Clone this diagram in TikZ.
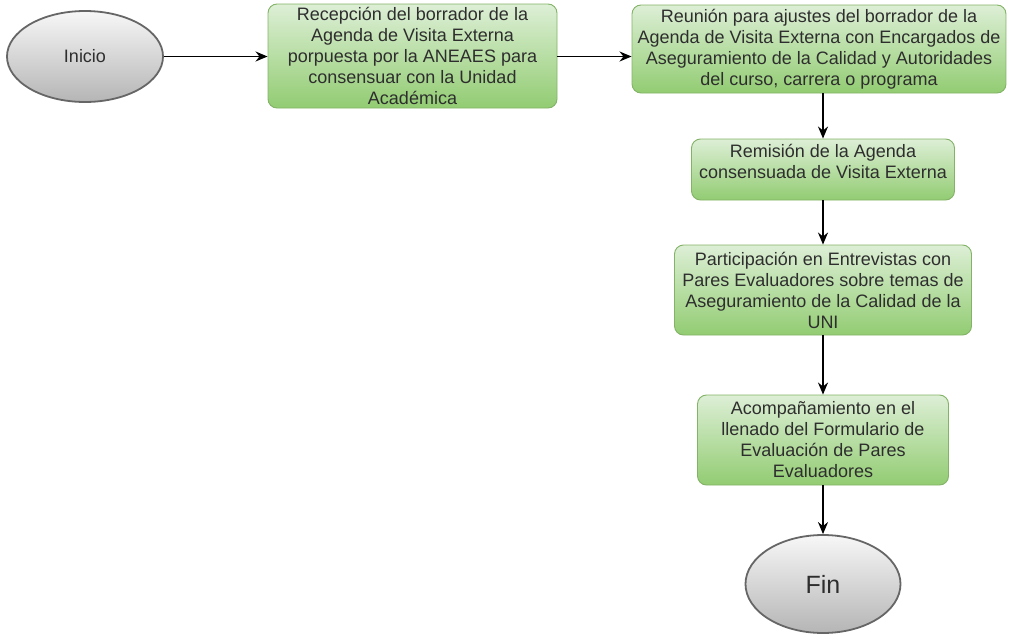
\documentclass[tikz,border=0pt]{standalone}
\usepackage{fontspec}
\setmainfont{Liberation Sans}
\usetikzlibrary{arrows.meta,shapes.geometric}
\definecolor{stepfillA}{HTML}{DDEFD6}
\definecolor{stepfillB}{HTML}{92CC72}
\definecolor{stepline}{HTML}{82B366}
\definecolor{termfillA}{HTML}{F7F7F7}
\definecolor{termfillB}{HTML}{B5B5B5}
\definecolor{termline}{HTML}{666666}
\definecolor{inktext}{HTML}{2E2E2E}
\begin{document}
\begin{tikzpicture}[x=1pt,y=-1pt,
  stepbox/.style={draw=stepline, line width=0.9pt, rounded corners=9pt,
    top color=stepfillA, bottom color=stepfillB, inner sep=0pt,
    align=center, text=inktext,
    font=\fontsize{18}{21}\selectfont},
  terminal/.style={ellipse, draw=termline, line width=1.8pt,
    top color=termfillA, bottom color=termfillB, inner sep=0pt,
    text=inktext},
  flow/.style={-{Stealth[length=12pt,width=10pt]}, line width=1.6pt, black}]
\useasboundingbox (0,0) rectangle (1010,640);

% start and end terminals
\node[terminal, minimum width=156pt, minimum height=91pt,
  font=\fontsize{18}{21}\selectfont] (ini) at (85,56.5) {Inicio};
\node[terminal, minimum width=155pt, minimum height=98pt,
  font=\fontsize{25}{29}\selectfont] (fin) at (823,584) {Fin};

% process steps
\node[stepbox, minimum width=289pt, minimum height=104pt] (recep) at (412.5,56)
  {Recepción del borrador de la\\Agenda de Visita Externa\\porpuesta por la ANEAES para\\consensuar con la Unidad\\Académica};
\node[stepbox, minimum width=374pt, minimum height=88pt] (reun) at (819,49)
  {Reunión para ajustes del borrador de la\\Agenda de Visita Externa con Encargados de\\Aseguramiento de la Calidad y Autoridades\\del curso, carrera o programa};
\node[stepbox, minimum width=263pt, minimum height=61pt] (remi) at (823,169.5)
  {Remisión de la Agenda\\consensuada de Visita Externa\\[-5pt]\mbox{}};
\node[stepbox, minimum width=297pt, minimum height=90pt] (parti) at (823,290)
  {Participación en Entrevistas con\\Pares Evaluadores sobre temas de\\Aseguramiento de la Calidad de la\\UNI};
\node[stepbox, minimum width=251pt, minimum height=90pt] (acomp) at (823,440)
  {Acompañamiento en el\\llenado del Formulario de\\Evaluación de Pares\\Evaluadores};

% connectors
\draw[flow] (ini.east) -- (ini.east -| recep.west);
\draw[flow] (recep.east |- ini.east) -- (reun.west |- ini.east);
\draw[flow] (reun.south -| remi.north) -- (remi.north);
\draw[flow] (remi.south) -- (parti.north);
\draw[flow] (parti.south) -- (acomp.north);
\draw[flow] (acomp.south) -- (fin.north);
\end{tikzpicture}
\end{document}
